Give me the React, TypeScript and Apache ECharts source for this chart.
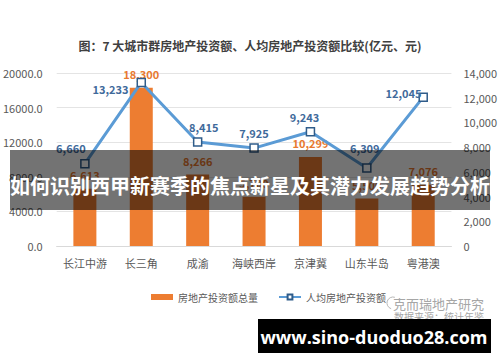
import React, { useEffect, useRef } from 'react';
import * as echarts from 'echarts';

const categories = ['长江中游', '长三角', '成渝', '海峡西岸', '京津冀', '山东半岛', '粤港澳'];
const investTotal = [6613, 18300, 8266, 5700, 10299, 5500, 7076];
const perCapita = [6660, 13233, 8415, 7925, 9243, 6309, 12045];
const seriesNames = ['房地产投资额总量', '人均房地产投资额'];
const titleText = '图：7 大城市群房地产投资额、人均房地产投资额比较(亿元、元)';
const bannerText = '如何识别西甲新赛季的焦点新星及其潜力发展趋势分析';
const brandText = '克而瑞地产研究';
const sourceText = '数据来源：统计年鉴';
const urlText = 'www.sino-duoduo28.com';

const FONT = "'Noto Sans CJK SC', 'Noto Sans', sans-serif";

const lineLabelCfg: any[] = [
  { position: 'top', offset: [-14, 0] },
  { position: 'left', distance: 8, offset: [0, 7] },
  { position: 'top', offset: [6, 0] },
  { position: 'top', offset: [0, 0] },
  { position: 'top', offset: [-6, 0] },
  { position: 'top', offset: [-2, -5] },
  { position: 'left', distance: -3, offset: [0, -4] },
];

const fmt = (v: number) => v.toLocaleString('en-US');

export default function App() {
  const ref = useRef<HTMLDivElement>(null);
  useEffect(() => {
    if (!ref.current) return;
    const chart = echarts.init(ref.current, null, { renderer: 'svg' });
    chart.setOption({
      animation: false,
      backgroundColor: '#ffffff',
      textStyle: { fontFamily: FONT },
      grid: { left: 56, right: 45, top: 73, bottom: 116 },
      legend: {
        left: 146,
        top: 287,
        itemWidth: 22,
        itemHeight: 6,
        itemGap: 20,
        textStyle: { color: '#595959', fontSize: 10, fontFamily: FONT },
        data: [
          { name: seriesNames[0], icon: 'rect' },
          { name: seriesNames[1] },
        ],
      },
      xAxis: {
        type: 'category',
        data: categories,
        axisTick: { show: false },
        axisLine: { lineStyle: { color: '#d9d9d9' } },
        axisLabel: { color: '#595959', fontSize: 11, margin: 11, interval: 0 },
      },
      yAxis: [
        {
          type: 'value',
          min: 0,
          max: 20000,
          interval: 4000,
          axisLabel: {
            color: '#595959',
            fontSize: 11,
            margin: 14,
            formatter: (v: number) => v.toFixed(1),
          },
          splitLine: { lineStyle: { color: '#e4e4e4' } },
        },
        {
          type: 'value',
          min: 0,
          max: 14000,
          interval: 2000,
          axisLabel: { color: '#595959', fontSize: 11, margin: 12 },
          splitLine: { show: false },
        },
      ],
      series: [
        {
          name: seriesNames[0],
          type: 'bar',
          data: investTotal,
          barWidth: 23,
          itemStyle: { color: '#ED7D31' },
          label: {
            show: true,
            position: 'top',
            distance: 8,
            color: '#E8792F',
            fontSize: 11,
            fontWeight: 'bold',
            formatter: (p: any) => fmt(p.value),
          },
          z: 2,
        },
        {
          name: seriesNames[1],
          type: 'line',
          yAxisIndex: 1,
          data: perCapita.map((v, i) => ({
            value: v,
            label: lineLabelCfg[i],
          })),
          symbol: 'rect',
          symbolSize: 8,
          lineStyle: { color: '#5B9BD5', width: 3 },
          itemStyle: { color: '#ffffff', borderColor: '#2F5C8A', borderWidth: 1.5 },
          label: {
            show: true,
            color: '#3F6A9B',
            fontSize: 11,
            fontWeight: 'bold',
            formatter: (p: any) => fmt(p.value),
          },
          z: 3,
        },
      ],
      graphic: [
        {
          type: 'text',
          left: 'center',
          top: 39,
          style: {
            text: titleText,
            font: `bold 12px ${FONT}`,
            fill: '#404040',
          },
          z: 10,
        },
        {
          type: 'rect',
          shape: { x: 10, y: 150, width: 480, height: 60 },
          style: { fill: 'rgba(0,0,0,0.55)' },
          z: 100,
        },
        {
          type: 'text',
          x: 250,
          y: 185,
          style: {
            text: bannerText,
            font: `bold 20px ${FONT}`,
            fill: '#ffffff',
            align: 'center',
            verticalAlign: 'middle',
          },
          z: 101,
        },
        {
          type: 'arc',
          shape: { cx: 393, cy: 303, r: 6, startAngle: Math.PI * 0.6, endAngle: Math.PI * 1.6 },
          style: { stroke: '#b8b8b8', lineWidth: 1, fill: 'none' },
          z: 10,
        },
        {
          type: 'text',
          x: 484,
          y: 303,
          style: {
            text: brandText,
            font: `13px ${FONT}`,
            fill: '#a6a6a6',
            align: 'right',
            verticalAlign: 'middle',
          },
          z: 10,
        },
        {
          type: 'text',
          x: 484,
          y: 316,
          style: {
            text: sourceText,
            font: `10px ${FONT}`,
            fill: '#a6a6a6',
            align: 'right',
            verticalAlign: 'middle',
          },
          z: 10,
        },
        {
          type: 'rect',
          shape: { x: 258, y: 319, width: 233, height: 34 },
          style: { fill: '#000000' },
          z: 100,
        },
        {
          type: 'text',
          x: 374,
          y: 337,
          style: {
            text: urlText,
            font: `bold 18px 'Open Sans', 'DejaVu Sans', sans-serif`,
            fill: '#ffffff',
            align: 'center',
            verticalAlign: 'middle',
          },
          z: 101,
        },
      ],
    });
    return () => chart.dispose();
  }, []);
  return (
    <div
      ref={ref}
      style={{ position: 'fixed', left: 0, top: 0, width: 500, height: 362 }}
    />
  );
}
